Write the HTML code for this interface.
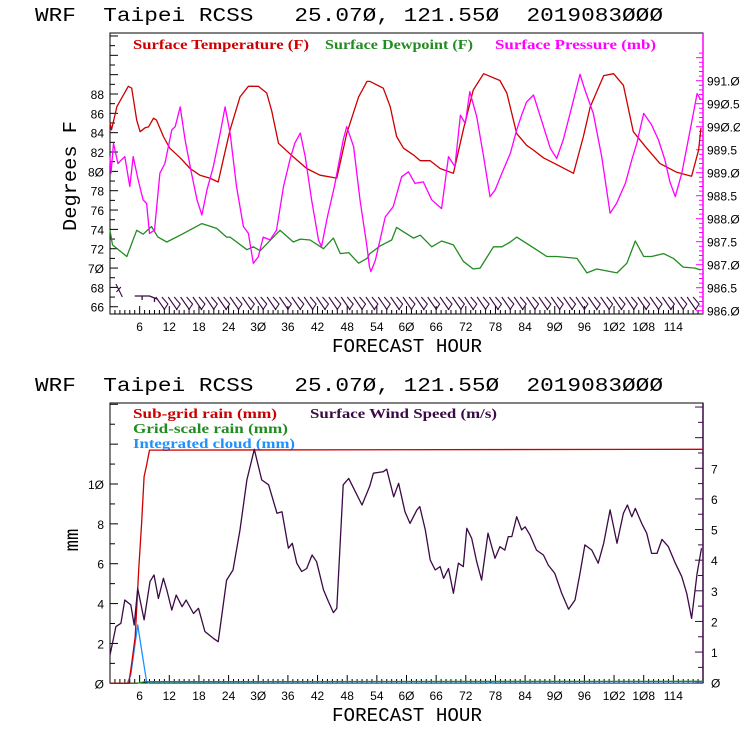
<!DOCTYPE html>
<html><head><meta charset="utf-8"><style>
html,body{margin:0;padding:0;background:#fff;}
svg{display:block;font-family:"Liberation Sans",sans-serif;}
.t{font-family:"Liberation Mono",monospace;font-size:19px;fill:#000;}
.lg{font-family:"Liberation Serif",serif;font-size:14px;font-weight:bold;}
.tk{font-size:12px;fill:#000;font-family:"Liberation Sans",sans-serif;}
</style></head><body>
<svg id="c" width="740" height="740" viewBox="0 0 740 740">
<rect width="740" height="740" fill="#fff"/>
<text class="t" x="35" y="21" textLength="628" lengthAdjust="spacingAndGlyphs" xml:space="preserve">WRF  Taipei RCSS   25.07Ø, 121.55Ø  2019083ØØØ</text>
<text class="t" x="35" y="391" textLength="628" lengthAdjust="spacingAndGlyphs" xml:space="preserve">WRF  Taipei RCSS   25.07Ø, 121.55Ø  2019083ØØØ</text>
<text class="lg" x="133" y="49" fill="#cc0000" textLength="176" lengthAdjust="spacingAndGlyphs">Surface Temperature (F)</text>
<text class="lg" x="325" y="49" fill="#228b22" textLength="148" lengthAdjust="spacingAndGlyphs">Surface Dewpoint (F)</text>
<text class="lg" x="495" y="49" fill="#ff00ff" textLength="161" lengthAdjust="spacingAndGlyphs">Surface Pressure (mb)</text>
<text class="lg" x="133" y="418" fill="#cc0000" textLength="144" lengthAdjust="spacingAndGlyphs">Sub-grid rain (mm)</text>
<text class="lg" x="310" y="418" fill="#3c0a46" textLength="187" lengthAdjust="spacingAndGlyphs">Surface Wind Speed (m/s)</text>
<text class="lg" x="133" y="433" fill="#228b22" textLength="155" lengthAdjust="spacingAndGlyphs">Grid-scale rain (mm)</text>
<text class="lg" x="133" y="448" fill="#1e90ff" textLength="162" lengthAdjust="spacingAndGlyphs">Integrated cloud (mm)</text>
<text class="t" x="0" y="0" transform="translate(76,176) rotate(-90)" text-anchor="middle" textLength="110" lengthAdjust="spacingAndGlyphs">Degrees F</text>
<text class="t" x="0" y="0" transform="translate(78,540) rotate(-90)" text-anchor="middle">mm</text>
<text class="t" x="407" y="352" text-anchor="middle" textLength="150" lengthAdjust="spacingAndGlyphs">FORECAST HOUR</text>
<text class="t" x="407" y="721" text-anchor="middle" textLength="150" lengthAdjust="spacingAndGlyphs">FORECAST HOUR</text>
<g id="g"></g>
</svg>
<script>
const tempH=[0,0.3,1.4,3.7,4.4,5.4,6.1,7.1,7.8,8.8,9.4,10.8,12.1,14.2,16.2,18.2,20.2,21.9,22.9,24.3,26.3,28,30,31.7,32.7,34.1,37.1,39.8,42.5,45.9,47.9,50.3,52,52.6,55.3,56.7,58,59.4,61.4,62.8,64.8,66.8,69.5,71.5,73.5,75.6,78.9,80.3,82.3,84.3,85.7,87.7,90.4,93.8,95.8,97.2,99.9,101.9,103.9,105.9,108.6,111.3,114.7,117.7,119.1,119.6];
const tempV=[85.0,84.3,86.7,88.8,88.6,85.3,84.1,84.5,84.6,85.5,85.3,83.6,82.4,81.4,80.3,79.6,79.3,78.9,81.2,84.3,87.7,88.8,88.8,88.1,86.3,82.9,81.5,80.3,79.6,79.3,83.9,87.7,89.3,89.3,88.6,86.7,83.6,82.4,81.7,81.1,81.1,80.3,79.8,84.3,88.4,90.1,89.4,88.1,83.9,82.7,82.2,81.4,80.7,79.8,83.6,86.7,89.9,90.1,88.9,84.1,82.4,80.8,79.9,79.5,82.2,84.5];
const dewH=[0,0.5,3.4,5.4,6.7,8.4,9.7,11.5,14.2,18.6,21.6,23.6,24.3,27.7,29,30.4,34.4,37.1,38.5,40.5,43.2,45.2,46.6,48.3,50.3,52,52.6,54.7,57,58,61.4,62.8,65.1,67.1,69.5,71.5,73.5,74.9,77.6,79.3,81,82.3,85.7,88.4,90.4,94.5,96.5,98.5,102.6,104.6,106.3,108,109.6,112,114,116,118.4,119.5];
const dewV=[73.9,72.4,71.2,73.9,73.5,74.3,73.2,72.7,73.4,74.6,74.1,73.2,73.2,71.9,72.2,71.8,73.9,72.7,73,72.9,72.0,73.1,71.5,71.6,70.5,71.0,71.5,72.3,72.9,74.2,73.1,73.4,72.2,72.8,72.4,70.7,69.9,70.0,72.2,72.2,72.7,73.2,72.1,71.2,71.2,71.0,69.5,69.9,69.5,70.5,72.8,71.2,71.2,71.5,71.0,70.1,70.0,69.8];
const presH=[0,0.2,0.7,1.6,3,4,4.7,5.7,6.7,7.4,8,9,10.1,11.1,12.5,13.2,14.2,15.2,16.5,17.6,18.6,19.6,20.9,22.3,23.3,24.3,25.6,27,28,29,30,31,32.4,33.7,35.1,36.4,37.4,38.5,39.5,40.8,42.2,42.8,44,45.4,47.2,47.9,49.3,50.6,52,52.5,52.8,53.7,55.7,57.3,59,60.4,61.7,63.4,65.1,67.1,68.5,69.8,70.9,71.9,72.8,74.2,75.6,76.9,77.9,79.3,81,82.3,83.3,84.3,85.7,87,89.1,90.4,91.7,93.1,95.1,96.1,97.8,99.5,101.2,102.5,104.3,105.6,106.6,108,109.6,111,112.3,113.3,114.4,115.7,117.4,118.8,119.6];
const presV=[989.35,988.99,989.64,989.2,989.35,988.7,989.35,988.84,988.41,988.33,987.68,987.75,988.99,989.2,989.93,990.0,990.43,989.71,988.99,988.41,988.08,988.62,989.13,989.86,990.43,989.86,988.7,987.83,987.68,987.03,987.17,987.6,987.54,987.75,988.7,989.28,989.64,989.86,989.35,988.41,987.54,987.39,988.04,988.7,989.71,990.0,989.57,988.41,987.39,986.96,986.85,987.1,988.04,988.26,988.91,989.02,988.77,988.8,988.41,988.22,989.35,989.13,990.25,990.07,990.76,990.22,989.35,988.48,988.62,988.99,989.42,989.93,990.25,990.54,990.69,990.25,989.53,989.31,989.71,990.29,991.14,990.8,990.29,989.35,988.12,988.33,988.77,989.28,989.64,990.29,990.04,989.71,989.28,988.8,988.48,988.99,989.93,990.72,990.58];
const windH=[0,1.2,2.2,3,4.2,4.9,5.6,6.9,8.1,8.9,9.8,10.8,11.5,12.5,13.4,14.6,15.4,16.9,17.9,19.2,20.9,21.9,23.6,24.9,26.3,27.7,29.2,30.7,32.1,33.8,34.8,36.1,36.9,37.8,38.8,39.8,40.9,41.8,43.2,44.2,45.2,45.9,47.2,48.3,49.3,51,52.6,53.3,55.3,56,57.4,58.4,59.7,60.7,62.1,62.7,63.8,64.8,65.8,66.8,67.5,68.5,69.5,70.5,71.5,72.2,73.2,74.2,75.2,76.5,77.9,78.9,79.9,80.6,81.3,82.3,83.3,84,85,86.3,87.7,88.7,90,91.4,92.8,94.1,95.1,96.1,97.5,98.8,99.9,101.2,102.6,103.9,104.7,105.6,106.3,107.6,108.6,109.6,110.7,111.7,113,114.4,115.7,116.7,117.7,118.8,119.7];
const windV=[0.90,1.83,1.94,2.70,2.54,1.88,3.08,2.05,3.30,3.52,2.75,3.41,3.03,2.37,2.86,2.48,2.70,2.26,2.43,1.67,1.45,1.34,3.35,3.68,4.99,6.62,7.62,6.62,6.46,5.53,5.58,4.39,4.55,3.90,3.63,3.73,4.17,3.95,3.03,2.65,2.29,2.43,6.46,6.67,6.35,5.80,6.43,6.84,6.89,6.97,6.07,6.51,5.58,5.20,5.64,5.75,4.99,4.01,3.68,3.79,3.41,3.73,2.92,3.90,3.79,5.04,4.71,3.95,3.35,4.88,4.06,4.44,4.33,4.77,4.77,5.42,4.99,5.09,4.82,4.33,4.17,3.84,3.57,2.92,2.40,2.70,3.57,4.50,4.33,3.90,4.55,5.64,4.55,5.53,5.80,5.42,5.69,5.20,4.88,4.22,4.22,4.68,4.44,3.90,3.46,2.92,2.10,3.57,4.39];
const rainH=[0,3.8,4.4,5.1,5.8,6.4,6.9,7.4,8,120];
const rainV=[0,0,1.0,2.34,5.69,8.03,10.37,10.95,11.7,11.74];
const cloudH=[0,3.5,4.2,5.6,6.4,7.4,8,76.5,77,77.5,120];
const cloudV=[0,0,0.42,2.93,1.67,0.08,0,0,0.08,0,0];
const gridH=[0,5.5,7,120];
const gridV=[0,0,0.08,0.1];
const barbH=[10.5,13,15.5,18,20.5,23,25.5,28,30.5,33,35.5,38,40.5,43,45.5,48,50.5,53,55.5,58,60.5,63,65.5,68,70.5,73,75.5,78,80.5,83,85.5,88,90.5,93,95.5,98,100.5,103,105.5,108,110.5,113,115.5,118];
const xTicks=[6,12,18,24,30,36,42,48,54,60,66,72,78,84,90,96,102,108,114];
const tempTicks=[66,68,70,72,74,76,78,80,82,84,86,88];
const presTicks=["986.0","986.5","987.0","987.5","988.0","988.5","989.0","989.5","990.0","990.5","991.0"];
const mmTicks=[0,2,4,6,8,10];
const windTicks=[0,1,2,3,4,5,6,7];

const NS="http://www.w3.org/2000/svg";
const G=document.getElementById('g');
const L=110,R=703;
const x=h=>L+h*(R-L)/120;
const yT=v=>94+(88-v)*9.67;
const yP=v=>80.7+(991-v)*46;
const yM=v=>683.3-v*19.93;
const yW=v=>682.7-v*30.63;
function el(t,a){const e=document.createElementNS(NS,t);for(const k in a)e.setAttribute(k,a[k]);G.appendChild(e);return e;}
function line(hs,vs,fy,col,name){
  let d='';for(let i=0;i<hs.length;i++)d+=(i?'L':'M')+x(hs[i]).toFixed(1)+' '+fy(vs[i]).toFixed(1);
  const p=el('path',{d:d,fill:'none',stroke:col,'stroke-width':1.3,'stroke-linejoin':'round'});
  
  
}
function z(s){return String(s).replace(/0/g,'Ø');}
function text(xx,yy,s,anchor,col,name){const t=el('text',{x:xx,y:yy,'text-anchor':anchor,class:'tk',fill:col});t.textContent=z(s);
  
  }
function frame(top,bot,rc,name){
  const f=el('rect',{x:L,y:top,width:R-L,height:bot-top,fill:'none',stroke:'#000','stroke-width':1});
  
  
  el('line',{x1:R,y1:top,x2:R,y2:bot,stroke:rc,'stroke-width':1.5});
  for(let h=1;h<120;h++){const len=h%6==0?8:4;el('line',{x1:x(h),y1:bot,x2:x(h),y2:bot-len,stroke:'#000','stroke-width':1});}
  for(const h of xTicks)text(x(h),bot+17,h,'middle','#000','x-tick-label');
}
// top chart
frame(33,314,'#ff00ff','top-plot-frame');
for(let v=66;v<=94;v++){const y=yT(v);if(y<33)continue;el('line',{x1:L,y1:y,x2:L+(v%2==0?8:5),y2:y,stroke:'#000'});}
for(const v of tempTicks)text(104,yT(v)+5,v,'end','#000','temp-tick-label');
for(let v=986;v<=991.7;v+=0.1){const y=yP(v);if(y<33)continue;el('line',{x1:R,y1:y,x2:R-(Math.round(v*10)%5==0?7:4),y2:y,stroke:'#ff00ff'});}
for(const s of presTicks)text(707,yP(parseFloat(s))+5,s,'start','#000','pressure-tick-label');
line(tempH,tempV,yT,'#cc0000','temperature-line');
line(dewH,dewV,yT,'#228b22','dewpoint-line');
line(presH,presV,yP,'#ff00ff','pressure-line');
for(const h of barbH){const bx=x(h);
  const b=el('path',{d:`M${bx-6} 297 L${bx+3} 310 M${bx} 297 L${bx+6} 304 L${bx+2} 310`,stroke:'#3c0a46',fill:'none','stroke-width':1.1});
  
  }
el('path',{d:`M${x(1.2)} 284 L${x(2.5)} 297 M${x(1.3)} 292 L${x(2.2)} 287`,stroke:'#3c0a46',fill:'none','stroke-width':1.1});
el('path',{d:`M${x(5)} 296 L${x(8)} 296 L${x(9.5)} 299 M${x(6.5)} 296 L${x(6.5)} 300 M${x(9)} 298 L${x(9)} 302`,stroke:'#3c0a46',fill:'none','stroke-width':1.3});
// bottom chart
frame(403,683,'#3c0a46','bottom-plot-frame');
for(let v=0;v<=14;v++){const y=yM(v);if(y<403)continue;el('line',{x1:L,y1:y,x2:L+(v%2==0?8:5),y2:y,stroke:'#000'});}
for(const v of mmTicks)text(104,yM(v)+5,v,'end','#000','mm-tick-label');
for(let v=0;v<=9;v+=0.5){const y=yW(v);if(y<403)continue;el('line',{x1:R,y1:y,x2:R-(v%1==0?8:5),y2:y,stroke:'#3c0a46'});}
for(const v of windTicks)text(711,yW(v)+5,v,'start','#000','wind-tick-label');
line(cloudH,cloudV,yM,'#1e90ff','cloud-line');
line(gridH,gridV,yM,'#228b22','grid-rain-line');
line(rainH,rainV,yM,'#cc0000','subgrid-rain-line');
line(windH,windV,yW,'#3c0a46','wind-speed-line');
</script>
</body></html>
